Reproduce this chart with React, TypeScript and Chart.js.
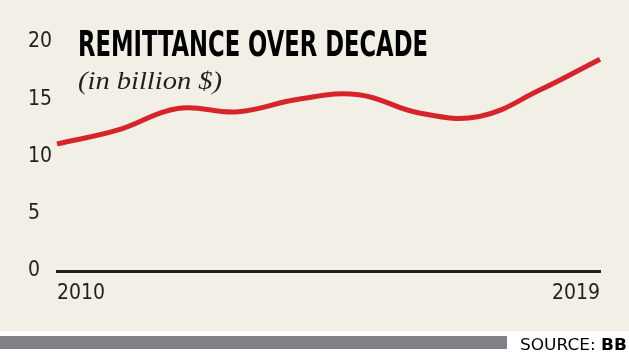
import React, { useEffect, useRef } from "react";
import { Chart, registerables } from "chart.js";

Chart.register(...registerables);

const years = ["2010", "2011", "2012", "2013", "2014", "2015", "2016", "2017", "2018", "2019"];
const remittance = [11.1, 12.3, 14.2, 13.9, 15.0, 15.4, 13.8, 13.5, 15.8, 18.5];
const yTicks = [0, 5, 10, 15, 20];
const shownYears = ["2010", "2019"];

const TICK_FONT = "'Liberation Sans Narrow', 'DejaVu Sans Condensed', 'Roboto', sans-serif";

export default function App() {
  const canvasRef = useRef<HTMLCanvasElement | null>(null);

  useEffect(() => {
    document.body.style.margin = "0";
    const ctx = canvasRef.current;
    if (!ctx) return;
    const chart = new Chart(ctx, {
      type: "line",
      data: {
        labels: years,
        datasets: [
          {
            data: remittance,
            borderColor: "#d7242b",
            borderWidth: 5,
            tension: 0.4,
            pointRadius: 0,
            fill: false,
            borderCapStyle: "butt",
          },
        ],
      },
      options: {
        animation: false,
        responsive: false,
        maintainAspectRatio: false,
        layout: { padding: { left: 28, right: 29, top: 42, bottom: 0 } },
        plugins: { legend: { display: false }, tooltip: { enabled: false }, title: { display: false } },
        scales: {
          x: {
            type: "category",
            grid: { display: false, drawTicks: false },
            border: { display: true, color: "#231f20", width: 3 },
            afterFit: (axis: any) => {
              axis.height = 60;
            },
            ticks: {
              autoSkip: false,
              maxRotation: 0,
              minRotation: 0,
              align: "inner",
              padding: 10,
              color: "#231f20",
              font: { family: TICK_FONT, size: 21 },
              callback: function (this: any, value: any, index: number) {
                const lab = years[index];
                return shownYears.includes(lab) ? lab : "";
              },
            },
          },
          y: {
            min: 0,
            max: 20,
            grid: { display: false, drawTicks: false },
            border: { display: false },
            afterFit: (axis: any) => {
              axis.width = 29;
            },
            afterBuildTicks: (axis: any) => {
              axis.ticks = yTicks.map((v) => ({ value: v }));
            },
            ticks: {
              crossAlign: "far",
              padding: 0,
              color: "#231f20",
              font: { family: TICK_FONT, size: 21 },
            },
          },
        },
      },
    });
    return () => chart.destroy();
  }, []);

  return (
    <div style={{ position: "relative", width: 629, height: 357, background: "#ffffff", overflow: "hidden" }}>
      <div style={{ position: "absolute", left: 0, top: 0, width: 629, height: 331, background: "#f2efe7" }}>
        <canvas ref={canvasRef} width={629} height={331} style={{ display: "block", width: 629, height: 331 }} />
      </div>
      <svg
        width={629}
        height={357}
        style={{ position: "absolute", left: 0, top: 0, pointerEvents: "none" }}
      >
        <text
          x={78}
          y={56}
          textLength={350}
          lengthAdjust="spacingAndGlyphs"
          style={{ fontFamily: TICK_FONT, fontWeight: 700, fontSize: 36, fill: "#000" }}
        >
          REMITTANCE OVER DECADE
        </text>
        <text
          x={78}
          y={89}
          textLength={144}
          lengthAdjust="spacingAndGlyphs"
          style={{ fontFamily: "'Liberation Serif', 'DejaVu Serif', serif", fontStyle: "italic", fontSize: 25, fill: "#231f20" }}
        >
          (in billion $)
        </text>
        <rect x={0} y={336} width={507} height={13} fill="#808184" />
        <text
          x={520}
          y={350}
          textLength={107}
          lengthAdjust="spacingAndGlyphs"
          style={{ fontFamily: "'DejaVu Sans', sans-serif", fontSize: 15, fill: "#000" }}
        >
          SOURCE: <tspan style={{ fontWeight: 700 }}>BB</tspan>
        </text>
      </svg>
    </div>
  );
}
